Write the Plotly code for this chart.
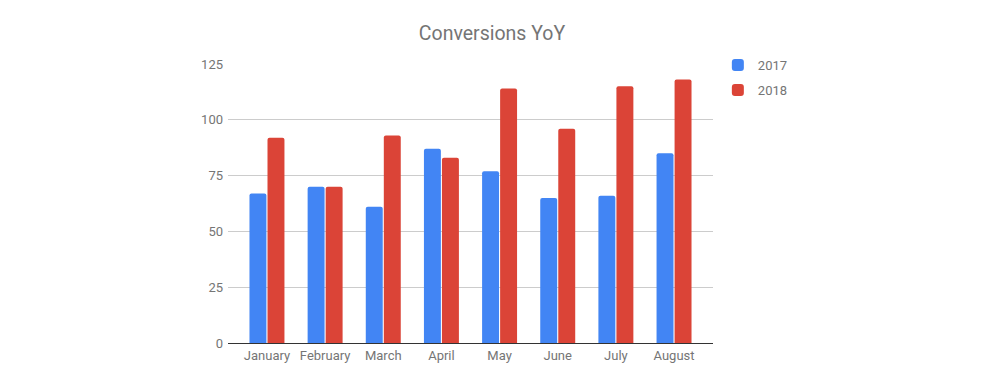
import plotly.graph_objects as go

months = ["January", "February", "March", "April", "May", "June", "July", "August"]
conv_2017 = [67, 70, 61, 87, 77, 65, 66, 85]
conv_2018 = [92, 70, 93, 83, 114, 96, 115, 118]
y_ticks = [0, 25, 50, 75, 100, 125]

fig = go.Figure()
fig.add_trace(go.Bar(name="2017", x=months, y=conv_2017, legendgroup="a",
                     marker=dict(color="#4285F4", cornerradius=2, line=dict(width=0))))
fig.add_trace(go.Bar(name="2018", x=months, y=conv_2018, legendgroup="b",
                     marker=dict(color="#DB4437", cornerradius=2, line=dict(width=0))))

fig.update_layout(
    width=1000, height=384,
    margin=dict(l=220, r=295, t=56, b=49),
    paper_bgcolor="white", plot_bgcolor="white",
    font=dict(family="Roboto", color="#757575", size=12),
    title=dict(text="Conversions YoY", x=0.484, xanchor="center", y=0.935, yanchor="middle",
               font=dict(size=19.5, color="#757575", family="Roboto")),
    barmode="group", bargap=0.38, bargroupgap=0.06,
    showlegend=True,
    legend=dict(x=1.01, y=1.05, xanchor="left", yanchor="top",
                font=dict(size=13, color="#757575"), tracegroupgap=5,
                itemwidth=30),
    hovermode=False,
)
fig.update_xaxes(showgrid=False, showline=True, linecolor="#333333", linewidth=1,
                 range=[-0.67, len(months) - 0.33],
                 tickfont=dict(size=13, color="#757575"), ticks="")
fig.update_yaxes(range=[0, 125], tickvals=y_ticks, showgrid=True, gridcolor="#cccccc",
                 gridwidth=1, zeroline=False, showline=False, ticks="", ticklen=0,
                 ticklabelstandoff=4,
                 tickfont=dict(size=13, color="#757575"))

fig.write_html("out.html")
